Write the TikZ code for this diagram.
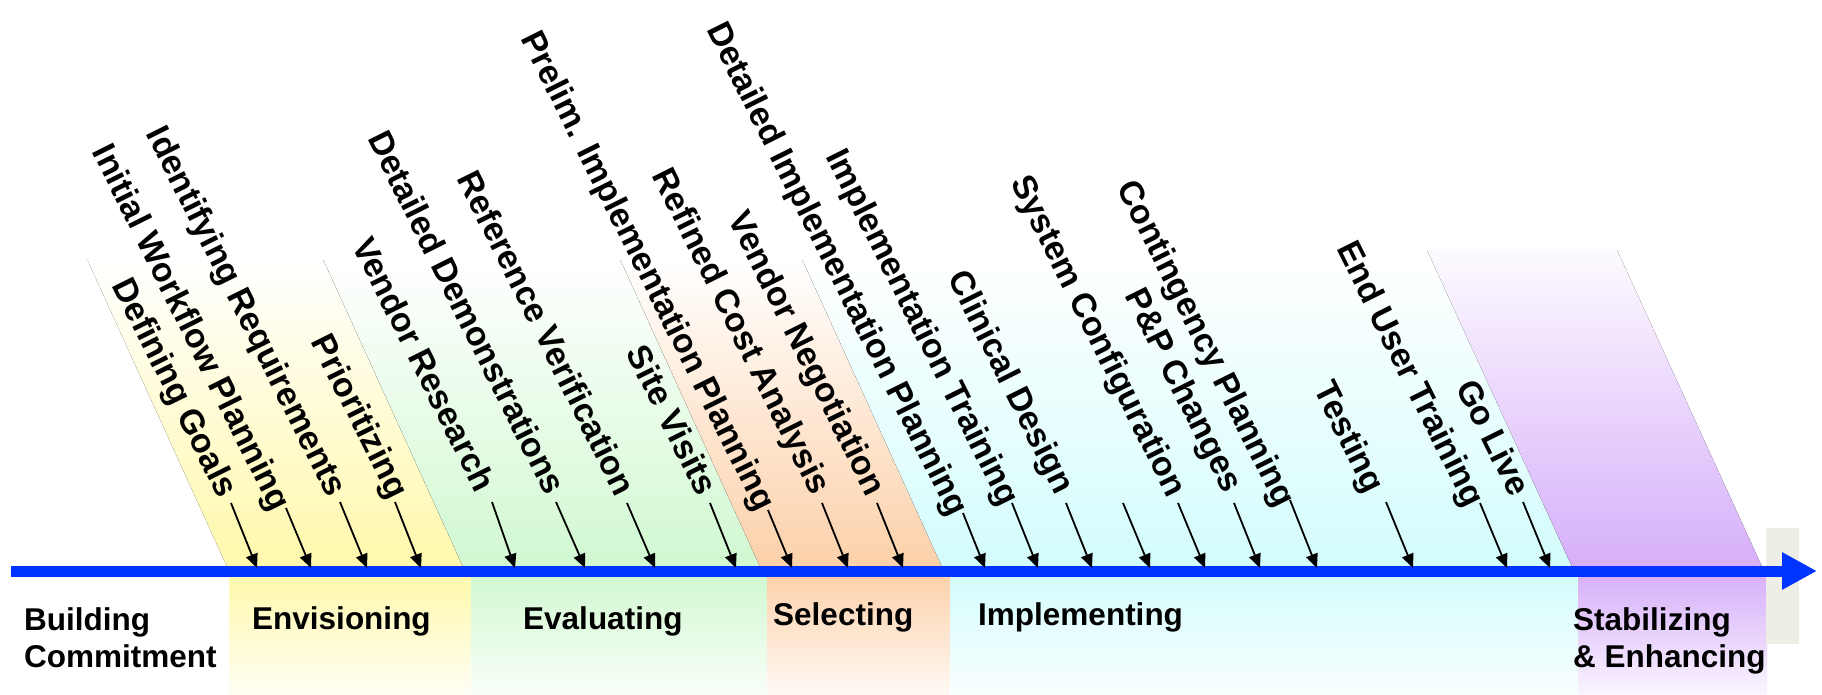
\documentclass[tikz,border=0pt]{standalone}
\usepackage{fontspec}
\setmainfont{Liberation Sans}
\usetikzlibrary{arrows.meta}

\definecolor{axisblue}{RGB}{0,51,255}
\definecolor{envY}{RGB}{255,248,170}
\definecolor{evalG}{RGB}{208,248,208}
\definecolor{selO}{RGB}{252,208,168}
\definecolor{impC}{RGB}{210,252,252}
\definecolor{stabP}{RGB}{214,174,250}
\definecolor{capgrey}{RGB}{238,238,230}

\begin{document}
\begin{tikzpicture}[x=1pt,y=-1pt,
  phase/.style={font=\bfseries\fontsize{31.5}{37}\selectfont, anchor=base west, inner sep=0pt},
  task/.style={font=\bfseries\fontsize{34}{41}\selectfont, anchor=base east, inner sep=0pt, rotate=-63.5},
  tick/.style={line width=1.8pt, -{Triangle[length=14pt,width=12pt]}},
  bandtop/.style={top color=white, bottom color=#1, draw=none},
  bandbot/.style={top color=#1, bottom color=#1!12!white, draw=none}]

\useasboundingbox (0,0) rectangle (1822,695);

% slanted phase bands above the time axis
\fill[bandtop=envY]  (229,571) -- (465,571) -- (323.5,260) -- (87.5,260) -- cycle;
\fill[bandtop=evalG] (465,571) -- (762,571) -- (620.5,260) -- (323.5,260) -- cycle;
\fill[bandtop=selO]  (762,571) -- (944,571) -- (802.5,260) -- (620.5,260) -- cycle;
\fill[bandtop=impC]  (944,571) -- (1574,571) -- (1432.5,260) -- (802.5,260) -- cycle;
\fill[top color=stabP!6!white, bottom color=stabP, draw=none]
  (1574,571) -- (1764,571) -- (1617,250) -- (1427,250) -- cycle;

% phase columns below the time axis
\fill[bandbot=envY]  (229,571) rectangle (471,695);
\fill[bandbot=evalG] (471,571) rectangle (767,695);
\fill[bandbot=selO]  (767,571) rectangle (950,695);
\fill[bandbot=impC]  (950,571) rectangle (1578,695);
\fill[bandbot=stabP] (1578,571) rectangle (1767,695);

% grey tab behind the arrow head
\fill[capgrey] (1766,528) rectangle (1799,644);

% time axis
\coordinate (axL) at (11,571);
\coordinate (axR) at (1817,571);
\draw[line width=11pt, axisblue, -{Triangle[length=35pt,width=35pt]}] (axL) -- (axR);

% phase names
\node[phase] (pb1) at (24,630) {Building};
\node[phase] (pb2) at (24,667) {Commitment};
\node[phase] (pe) at (252,629) {Envisioning};
\node[phase] (pv) at (523,629) {Evaluating};
\node[phase] (ps) at (773,625) {Selecting};
\node[phase] (pi) at (978,625) {Implementing};
\node[phase] (pst1) at (1573,630) {Stabilizing};
\node[phase] (pst2) at (1573,667) {\& Enhancing};

% activity markers: start and tip of each pointer
\coordinate (s1) at (231,503);   \coordinate (t1) at (257,568);
\coordinate (s2) at (286,508);   \coordinate (t2) at (311,568);
\coordinate (s3) at (340,502);   \coordinate (t3) at (367,568);
\coordinate (s4) at (395,502);   \coordinate (t4) at (421,568);
\coordinate (s5) at (492,502);   \coordinate (t5) at (515,568);
\coordinate (s6) at (556,502);   \coordinate (t6) at (585,568);
\coordinate (s7) at (627,503);   \coordinate (t7) at (655,568);
\coordinate (s8) at (710,503);   \coordinate (t8) at (736,568);
\coordinate (s9) at (768,510);   \coordinate (t9) at (792,568);
\coordinate (s10) at (822,503);  \coordinate (t10) at (848,568);
\coordinate (s11) at (877,503);  \coordinate (t11) at (903,568);
\coordinate (s12) at (963,513);  \coordinate (t12) at (985,568);
\coordinate (s13) at (1012,503); \coordinate (t13) at (1038,568);
\coordinate (s14) at (1066,503); \coordinate (t14) at (1092,568);
\coordinate (s15) at (1123,503); \coordinate (t15) at (1150,568);
\coordinate (s16) at (1178,503); \coordinate (t16) at (1205,568);
\coordinate (s17) at (1234,503); \coordinate (t17) at (1260,568);
\coordinate (s18) at (1290,500); \coordinate (t18) at (1317,568);
\coordinate (s19) at (1386,502); \coordinate (t19) at (1413,568);
\coordinate (s20) at (1480,503); \coordinate (t20) at (1507,568);
\coordinate (s21) at (1523,502); \coordinate (t21) at (1550,568);

\foreach \i in {1,...,21} { \draw[tick] (s\i) -- (t\i); }

% activity labels
\node[task] (a1)  at (219,500)  {Defining Goals};
\node[task] (a2)  at (272,513)  {Initial Workflow Planning};
\node[task] (a3)  at (328,499)  {Identifying Requirements};
\node[task] (a4)  at (390,501)  {Prioritizing};
\node[task] (a5)  at (476,494)  {Vendor Research};
\node[task] (a6)  at (546,497)  {Detailed Demonstrations};
\node[task] (a7)  at (616,498)  {Reference Verification};
\node[task] (a8)  at (698,498)  {Site Visits};
\node[task] (a9)  at (757,513)  {Prelim. Implementation Planning};
\node[task] (a10) at (812,497)  {Refined Cost Analysis};
\node[task] (a11) at (867,498)  {Vendor Negotiation};
\node[task] (a12) at (950,518)  {Detailed Implementation Planning};
\node[task] (a13) at (1001,508) {Implementation Training};
\node[task] (a14) at (1056,496) {Clinical Design};
\node[task] (a16) at (1168,499) {System Configuration};
\node[task] (a17) at (1224,495) {P\&P Changes};
\node[task] (a18) at (1277,509) {Contingency Planning};
\node[task] (a19) at (1366,495) {Testing};
\node[task] (a20) at (1466,509) {End User Training};
\node[task] (a21) at (1511,499) {Go Live};

\end{tikzpicture}
\end{document}
